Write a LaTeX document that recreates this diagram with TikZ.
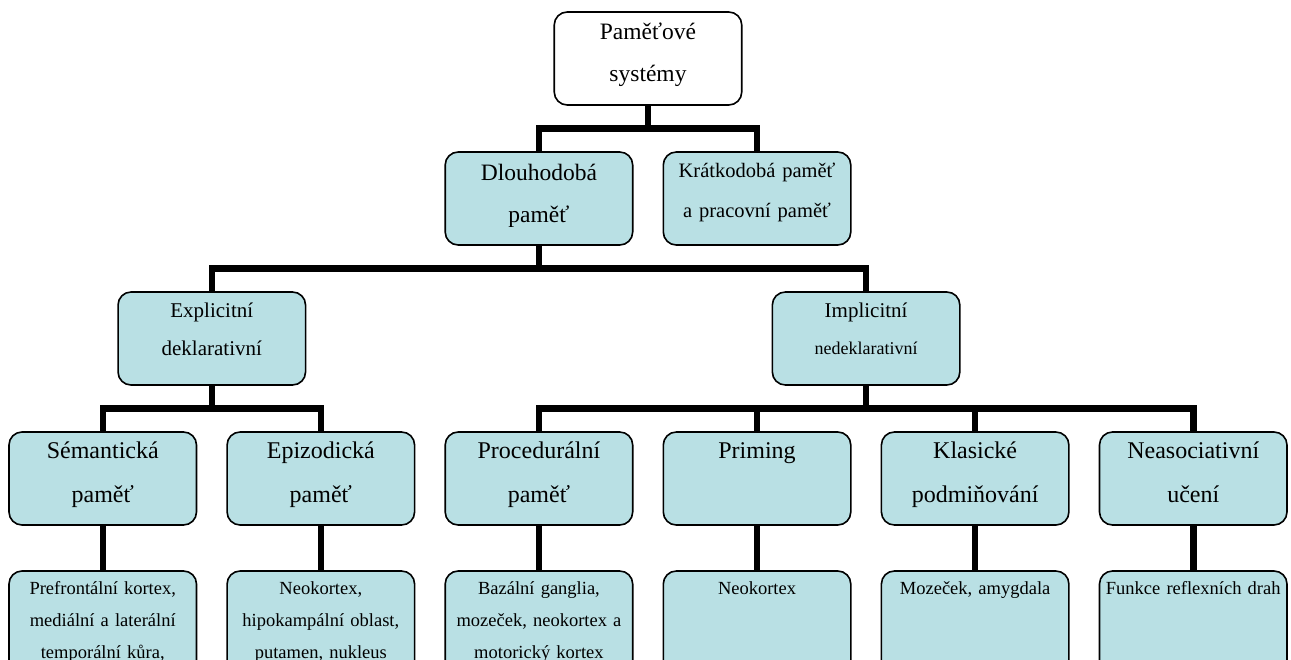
\documentclass[tikz,border=0pt]{standalone}
\usepackage{fontspec}
\setmainfont{Liberation Serif}
\usepackage{xcolor}
\usepackage{tikz}
\usetikzlibrary{positioning,calc}
\definecolor{boxblue}{RGB}{185,224,228}

\begin{document}
\begin{tikzpicture}[x=1pt,y=1pt,node distance=47pt and 30.6pt,
    box/.style={draw,line width=1.6pt,rounded corners=13pt,fill=boxblue,inner sep=0pt,outer sep=0pt,
      text width=187.5pt,align=center,text height=26pt,text depth=67pt},
    kind/.style={box,font=\fontsize{24}{44}\selectfont},
    leaf/.style={box,font=\fontsize{18.5}{32}\selectfont,text height=23pt,text depth=110pt},
    link/.style={line width=6.5pt}]
  \path[use as bounding box,clip] (0,0) rectangle (1291,-659);

  \node[kind,anchor=north west] (sem) at (9,-432) {Sémantická\\paměť};
  \node[kind,right=of sem] (epi) {Epizodická\\paměť};
  \node[kind,right=of epi] (proc) {Procedurální\\paměť};
  \node[kind,right=of proc] (prim) {Priming};
  \node[kind,right=of prim] (klas) {Klasické\\podmiňování};
  \node[kind,right=of klas] (neas) {Neasociativní\\učení};

  \node[leaf,below=46pt of sem] (sem-area) {Prefrontální kortex,\\mediální a laterální\\temporální kůra,};
  \node[leaf,below=46pt of epi] (epi-area) {Neokortex,\\hipokampální oblast,\\putamen, nukleus};
  \node[leaf,below=46pt of proc] (proc-area) {Bazální ganglia,\\mozeček, neokortex a\\motorický kortex};
  \node[leaf,below=46pt of prim] (prim-area) {Neokortex};
  \node[leaf,below=46pt of klas] (klas-area) {Mozeček, amygdala};
  \node[leaf,below=46pt of neas] (neas-area) {Funkce reflexních drah};

  \coordinate (expmid) at ($(sem.north)!0.5!(epi.north)$);
  \coordinate (impmid) at ($(proc.north)!0.5!(neas.north)$);
  \node[box,above=of expmid,font=\fontsize{21}{38}\selectfont,text height=25pt,text depth=68pt] (expl)
    {Explicitní\\deklarativní};
  \node[box,above=of impmid,font=\fontsize{21}{37}\selectfont,text height=25pt,text depth=68pt] (impl)
    {Implicitní\\{\fontsize{18}{37}\selectfont nedeklarativní}};

  \coordinate (dlmid) at ($(expl.north)!0.5!(impl.north)$);
  \node[box,above=of dlmid,font=\fontsize{23.5}{42}\selectfont,text height=28pt,text depth=65pt] (dlouh)
    {Dlouhodobá\\paměť};
  \node[box,right=of dlouh,font=\fontsize{20.5}{40}\selectfont,text height=25pt,text depth=68pt] (kratk)
    {Krátkodobá paměť\\a pracovní paměť};

  \coordinate (topmid) at ($(dlouh.north)!0.5!(kratk.north)$);
  \node[box,fill=white,above=of topmid,font=\fontsize{23.5}{42}\selectfont,text height=27pt,text depth=66pt] (top)
    {Paměťové\\systémy};

  \foreach \u/\v in {top/dlouh,top/kratk,dlouh/expl,dlouh/impl,expl/sem,expl/epi,
                     impl/proc,impl/prim,impl/klas,impl/neas}
    \draw[link] (\u.south) -- ++(0,-23.5) -| (\v.north);
  \foreach \u in {sem,epi,proc,prim,klas,neas}
    \draw[link] (\u.south) -- (\u-area.north);
\end{tikzpicture}
\end{document}
